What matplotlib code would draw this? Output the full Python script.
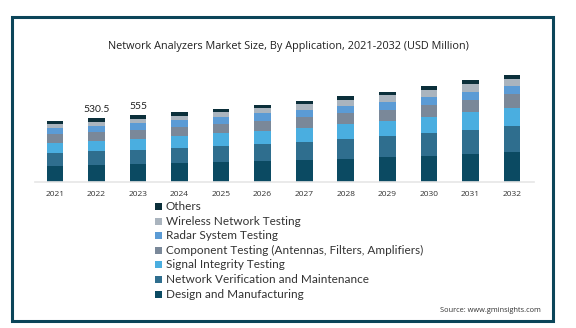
import matplotlib
matplotlib.use("Agg")
import matplotlib.pyplot as plt
from matplotlib.patches import Rectangle
import numpy as np

plt.rcParams['font.family'] = ['Open Sans', 'DejaVu Sans']

years = ["2021", "2022", "2023", "2024", "2025", "2026", "2027", "2028", "2029", "2030", "2031", "2032"]
design = [133, 139, 147, 156, 167, 172, 184, 192, 203, 217, 231, 245]
network_ver = [108, 117, 120, 125, 131, 142, 150, 164, 178, 189, 203, 222]
signal = [86, 87, 89, 97, 106, 111, 114, 122, 125, 133, 145, 150]
component = [70, 72, 78, 78, 78, 81, 89, 92, 95, 100, 106, 111]
radar = [50, 53, 58, 56, 58, 64, 61, 64, 67, 72, 67, 72]
wireless = [33, 34, 33, 39, 39, 42, 47, 47, 53, 56, 61, 61]
others = [28, 29, 30, 28, 31, 28, 25, 31, 31, 28, 33, 33]
annotations = {1: "530.5", 2: "555"}

series = [
    ("Design and Manufacturing", design, "#0b4a62"),
    ("Network Verification and Maintenance", network_ver, "#2f6e8e"),
    ("Signal Integrity Testing", signal, "#4aaee0"),
    ("Component Testing (Antennas, Filters, Amplifiers)", component, "#7a8899"),
    ("Radar System Testing", radar, "#5b9bd5"),
    ("Wireless Network Testing", wireless, "#aab4be"),
    ("Others", others, "#0b2f3a"),
]

W, H = 576, 328
fig = plt.figure(figsize=(W / 100, H / 100), dpi=100)

# border
fig.patches.append(Rectangle((12 / W, 1 - 321 / H), (553 - 12) / W, (321 - 17) / H,
                             transform=fig.transFigure, fill=False,
                             edgecolor="#0b4559", linewidth=2.2))

ax = fig.add_axes([35 / W, 1 - 181.7 / H, 499 / W, 119.8 / H])
x = np.arange(len(years))
bottom = np.zeros(len(years))
for name, vals, col in series:
    ax.bar(x, vals, width=0.4, bottom=bottom, color=col, linewidth=0)
    bottom += np.array(vals)

for i, txt in annotations.items():
    ax.text(x[i], bottom[i] + 35, txt, ha="center", va="bottom", fontsize=7.5,
            color="#222222", family=["Lato", "DejaVu Sans"])

ax.set_xlim(-0.48, 11.53)
ax.set_ylim(0, 1000)
ax.set_xticks(x)
ax.set_xticklabels(years, fontsize=6, color="#333333")
ax.set_yticks([])
for s in ["top", "right", "left"]:
    ax.spines[s].set_visible(False)
ax.spines["bottom"].set_color("#e6e6e6")
ax.spines["bottom"].set_linewidth(1.2)
ax.tick_params(axis="x", length=0, pad=7)

fig.text(288 / W, 1 - 47 / H, "Network Analyzers Market Size, By Application, 2021-2032 (USD Million)",
         ha="center", va="center", fontsize=7.8, color="#222222")

# legend (reverse order, Others on top)
y0 = 206.5
for k, (name, vals, col) in enumerate(reversed(series)):
    yc = y0 + k * 14.6
    fig.patches.append(Rectangle((155 / W, 1 - (yc + 3.5) / H), 7 / W, 7 / H,
                                 transform=fig.transFigure, facecolor=col, edgecolor="none"))
    fig.text(166 / W, 1 - yc / H, name, ha="left", va="center", fontsize=8.5,
             color="#333333", family=["Lato", "DejaVu Sans"])

fig.text(541 / W, 1 - 311 / H, "Source: www.gminsights.com", ha="right", va="center",
         fontsize=5.3, color="#333333")

fig.savefig("out.png", dpi=100)
